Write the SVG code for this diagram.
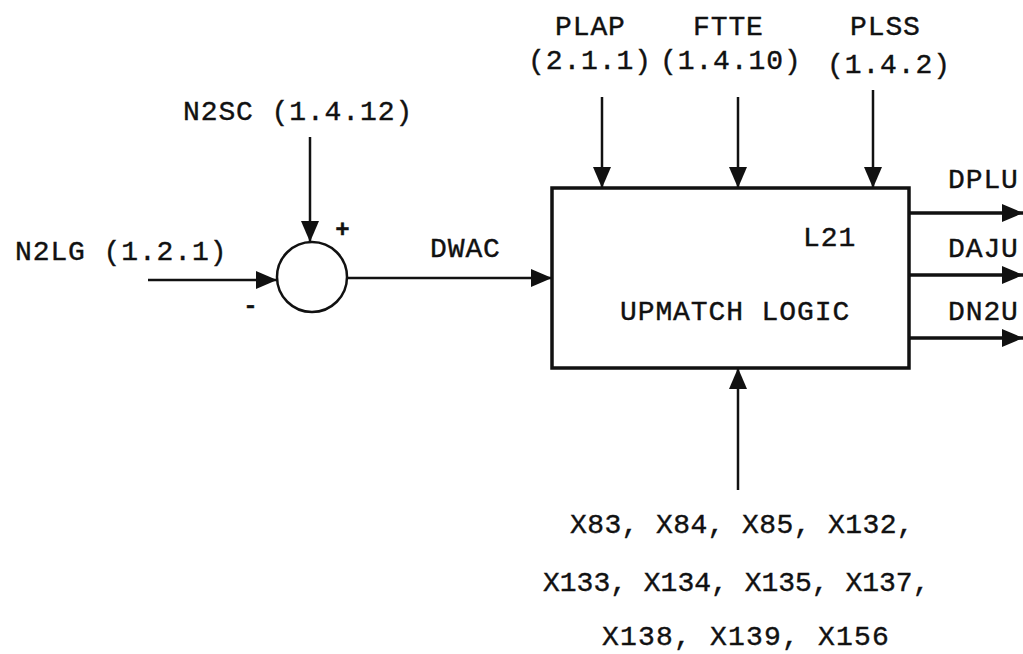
<svg xmlns="http://www.w3.org/2000/svg" width="1023" height="654" viewBox="0 0 1023 654">
<style>
.t{font-family:"Liberation Mono","DejaVu Sans Mono",monospace;font-size:28px;letter-spacing:0.9px;fill:#111;stroke:#111;stroke-width:0.4}
.b{letter-spacing:0}
.ln{stroke:#111;stroke-width:2.5;fill:none}
.th{stroke:#111;stroke-width:3.5;fill:none}
</style>
<defs>
<marker id="ah" markerUnits="userSpaceOnUse" markerWidth="22" markerHeight="18" refX="21" refY="9" orient="auto">
<polygon points="0,0 21,9 0,18" fill="#111"/>
</marker>
</defs>
<rect width="1023" height="654" fill="#fff"/>
<g id="connectors">
<line class="ln" x1="310" y1="137" x2="310" y2="242" marker-end="url(#ah)"/>
<line class="ln" x1="148" y1="280" x2="277" y2="280" marker-end="url(#ah)"/>
<line class="ln" x1="348" y1="278" x2="552" y2="278" marker-end="url(#ah)"/>
<line class="ln" x1="602" y1="97" x2="602" y2="188" marker-end="url(#ah)"/>
<line class="ln" x1="738" y1="97" x2="738" y2="188" marker-end="url(#ah)"/>
<line class="ln" x1="873" y1="90" x2="873" y2="188" marker-end="url(#ah)"/>
<line class="ln" x1="738" y1="490" x2="738" y2="368" marker-end="url(#ah)"/>
<line class="th" x1="909" y1="213" x2="1023" y2="213" marker-end="url(#ah)"/>
<line class="th" x1="909" y1="275" x2="1023" y2="275" marker-end="url(#ah)"/>
<line class="th" x1="909" y1="338" x2="1023" y2="338" marker-end="url(#ah)"/>
</g>
<g id="summing-junction">
<circle class="ln" cx="312" cy="277" r="35"/>
<text class="t" x="343" y="237" text-anchor="middle" style="font-size:24px;font-weight:bold">+</text>
<text class="t" x="251" y="313" text-anchor="middle" style="font-size:24px;font-weight:bold">-</text>
</g>
<g id="n2sc"><text class="t" x="183" y="120">N2SC (1.4.12)</text></g>
<g id="n2lg"><text class="t" x="15" y="260">N2LG (1.2.1)</text></g>
<g id="dwac"><text class="t" x="430" y="257">DWAC</text></g>
<g id="plap"><text class="t" x="555" y="35">PLAP</text><text class="t" x="528" y="69">(2.1.1)</text></g>
<g id="ftte"><text class="t" x="693" y="35">FTTE</text><text class="t" x="660" y="69">(1.4.10)</text></g>
<g id="plss"><text class="t" x="850" y="35">PLSS</text><text class="t" x="827" y="73">(1.4.2)</text></g>
<g id="l21">
<rect x="552" y="188" width="357" height="180" class="th"/>
<text class="t" x="803" y="246">L21</text>
<text class="t" x="620" y="320">UPMATCH LOGIC</text>
</g>
<g id="dplu"><text class="t" x="948" y="188">DPLU</text></g>
<g id="daju"><text class="t" x="948" y="257">DAJU</text></g>
<g id="dn2u"><text class="t" x="948" y="320">DN2U</text></g>
<g id="x-inputs">
<text class="t" x="570" y="533" style="letter-spacing:0.4px">X83, X84, X85, X132,</text>
<text class="t b" x="543" y="591">X133, X134, X135, X137,</text>
<text class="t" x="602" y="645" style="letter-spacing:1.2px">X138, X139, X156</text>
</g>
</svg>
